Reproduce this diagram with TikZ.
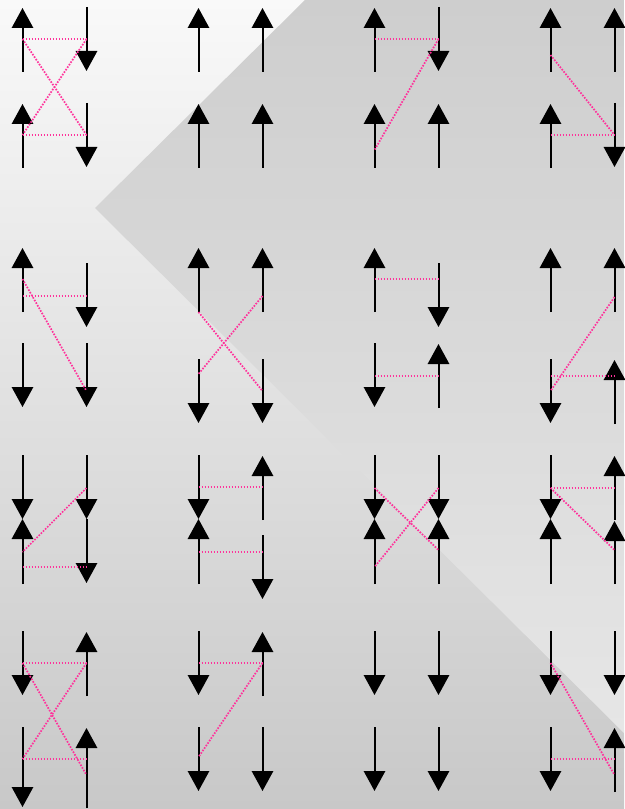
\documentclass[tikz,border=0pt]{standalone}
\usetikzlibrary{arrows.meta}
\definecolor{bondpink}{RGB}{255,50,155}
\definecolor{bgtop}{RGB}{249,249,249}
\definecolor{bgmid}{RGB}{230,230,230}
\definecolor{bgbot}{RGB}{200,200,200}
\definecolor{wedgetop}{RGB}{206,206,206}
\definecolor{wedgebot}{RGB}{230,230,230}
\begin{document}
\begin{tikzpicture}[x=0.75pt,y=-0.75pt,
  spin/.style={line width=1.5pt,-{Triangle[width=16pt,length=15pt]}},
  bond/.style={bondpink,line width=1.3pt,dash pattern=on 1.2pt off 1.05pt}]
\useasboundingbox (0,0) rectangle (624,809);
\shade[top color=bgtop,middle color=bgmid,bottom color=bgbot] (0,0) rectangle (624,809);
\shade[top color=wedgetop,bottom color=wedgebot] (305,0) -- (624,0) -- (624,733) -- (95,208) -- cycle;
% arrows: x / start y / tip y
\foreach \x/\a/\b in {
  22.5/72/8, 86.5/7/71, 22.5/168/104, 86.5/103/167,
  198.5/72/8, 262.5/72/8, 198.5/168/104, 262.5/168/104,
  374.5/72/8, 438.5/7/71, 374.5/168/104, 438.5/168/104,
  550.5/72/8, 614.5/72/8, 550.5/168/104, 614.5/103/167,
  22.5/312/248, 86.5/263/327, 22.5/343/407, 86.5/343/407,
  198.5/312/248, 262.5/312/248, 198.5/359/423, 262.5/359/423,
  374.5/312/248, 438.5/263/327, 374.5/343/407, 438.5/408/344,
  550.5/312/248, 614.5/312/248, 550.5/359/423, 614.5/424/360,
  22.5/455/519, 86.5/455/519, 22.5/584/519, 86.5/519/583,
  198.5/455/519, 262.5/520/456, 198.5/584/519, 262.5/535/599,
  374.5/455/519, 438.5/455/519, 374.5/584/519, 438.5/584/519,
  550.5/455/519, 614.5/520/456, 550.5/584/519, 614.5/584/521,
  22.5/631/695, 86.5/696/632, 22.5/727/807, 86.5/808/728,
  198.5/631/695, 262.5/696/632, 198.5/727/791, 262.5/727/791,
  374.5/631/695, 438.5/631/695, 374.5/727/791, 438.5/727/791,
  550.5/631/695, 614.5/631/695, 550.5/727/791, 614.5/792/728}
  \draw[spin] (\x,\a) -- (\x,\b);
% dotted bonds
\foreach \xa/\ya/\xb/\yb in {
  22.5/39/86.5/39, 22.5/135/86.5/135, 22.5/39/86.5/135, 86.5/39/22.5/135,
  374.5/39/438.5/39, 438.5/39/374.5/150,
  550.5/55/614.5/135, 550.5/135/614.5/135,
  22.5/296/86.5/296, 22.5/279/86.5/391,
  198.5/312/262.5/391, 262.5/296/198.5/374,
  374.5/279/438.5/279, 374.5/376/438.5/376,
  614.5/297/550.5/391, 550.5/376/614.5/376,
  86.5/488/22.5/552, 22.5/567/86.5/567,
  198.5/487/262.5/487, 198.5/552/262.5/552,
  374.5/488/438.5/550, 438.5/488/374.5/567,
  550.5/488/614.5/488, 550.5/488/614.5/550,
  22.5/663/86.5/663, 22.5/759/86.5/759, 22.5/663/86.5/775, 86.5/663/22.5/759,
  198.5/663/262.5/663, 262.5/663/198.5/757,
  550.5/663/614.5/775, 550.5/759/614.5/759}
  \draw[bond] (\xa,\ya) -- (\xb,\yb);
\end{tikzpicture}
\end{document}
